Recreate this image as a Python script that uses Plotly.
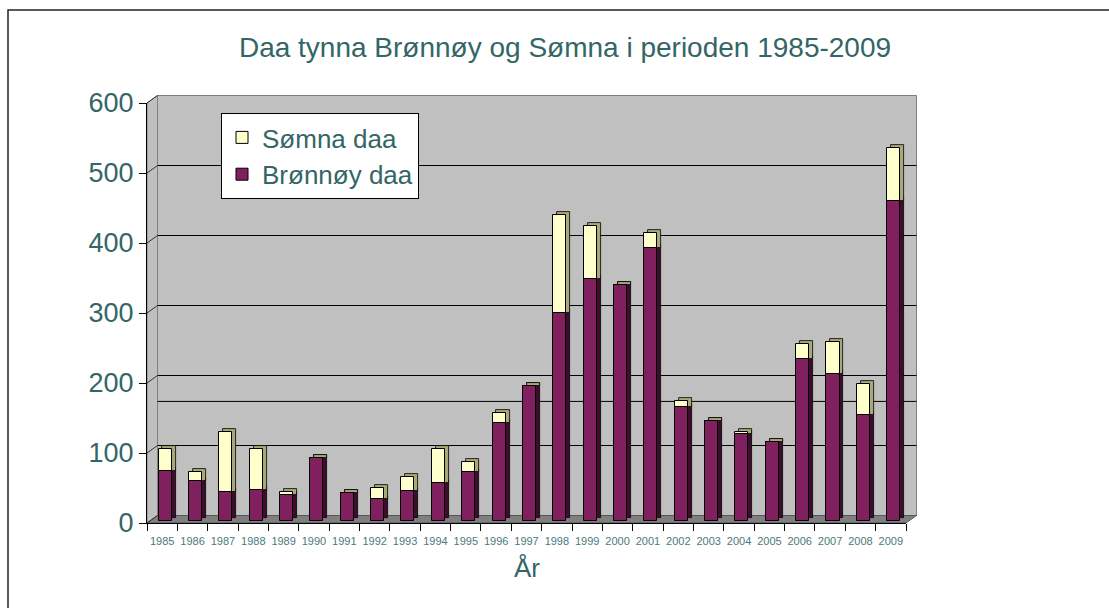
import plotly.graph_objects as go

# ---- data ----
YEARS = ["1985", "1986", "1987", "1988", "1989", "1990", "1991", "1992", "1993",
         "1994", "1995", "1996", "1997", "1998", "1999", "2000", "2001", "2002",
         "2003", "2004", "2005", "2006", "2007", "2008", "2009"]
BRONNOY = [72, 57, 42, 45, 38, 90, 40, 32, 44, 55, 71, 141, 194, 298, 346, 338,
           391, 163, 143, 125, 114, 232, 211, 152, 457]
SOMNA = [31, 14, 85, 59, 4, 0, 0, 16, 20, 49, 14, 14, 0, 139, 76, 0, 21, 9, 0,
         3, 0, 22, 45, 44, 76]
Y_TICKS = [0, 100, 200, 300, 400, 500, 600]
REF_LINE = 163  # extra horizontal line on the back wall

TITLE = "Daa tynna Brønnøy og Sømna i perioden 1985-2009"
X_TITLE = "År"
NAME_B = "Brønnøy daa"
NAME_S = "Sømna daa"

# ---- style ----
FONT = "Liberation Sans, Arial, sans-serif"
TEAL = "#336666"
C_B = "#80205F"
C_B_SIDE = "#3E0D2E"
C_S = "#FFFFCC"
C_S_SIDE = "#A8A878"
WALL = "#C0C0C0"
FLOOR = "#808080"

Y_MAX = Y_TICKS[-1]
BASE = 2.3          # bars stand slightly behind the front edge of the floor
DEPTH = 4.3         # vertical 3D depth of the bars (y units)
SIDE_DX = 0.13      # horizontal 3D depth of bars (category units)
OFF = -0.12
W = 0.43
WALL_DX = 10.5 / 759.0   # paper units
WALL_DY = 10.7           # y units

n = len(YEARS)

def yp(v):
    return v / Y_MAX

fig = go.Figure()

# 3D sides / tops (behind)
fig.add_trace(go.Bar(x=YEARS, y=BRONNOY, base=[BASE + DEPTH] * n,
                     offset=OFF + SIDE_DX, width=W, marker_color=C_B_SIDE,
                     marker_line=dict(color="black", width=0.8),
                     showlegend=False, hoverinfo="skip"))
fig.add_trace(go.Bar(x=YEARS, y=[s + DEPTH for s in SOMNA],
                     base=[BASE + b for b in BRONNOY],
                     offset=OFF + SIDE_DX, width=W, marker_color=C_S_SIDE,
                     marker_line=dict(color="black", width=0.8),
                     showlegend=False, hoverinfo="skip"))
# front faces
fig.add_trace(go.Bar(x=YEARS, y=BRONNOY, base=[BASE] * n, offset=OFF, width=W,
                     name=NAME_B, marker_color=C_B,
                     marker_line=dict(color="black", width=1)))
fig.add_trace(go.Bar(x=YEARS, y=SOMNA, base=[BASE + b for b in BRONNOY],
                     offset=OFF, width=W, name=NAME_S, marker_color=C_S,
                     marker_line=dict(color="black", width=1)))

shapes = []
# back wall
shapes.append(dict(type="rect", xref="paper", yref="paper", layer="below",
                   x0=WALL_DX, x1=1 + WALL_DX, y0=yp(WALL_DY), y1=yp(Y_MAX + WALL_DY),
                   fillcolor=WALL, line=dict(color="#808080", width=1)))
# left wall
shapes.append(dict(type="path", xref="paper", yref="paper", layer="below",
                   path=f"M 0 {yp(0)} L 0 {yp(Y_MAX)} L {WALL_DX} {yp(Y_MAX + WALL_DY)} "
                        f"L {WALL_DX} {yp(WALL_DY)} Z",
                   fillcolor=WALL, line=dict(color="#808080", width=1)))
# floor
shapes.append(dict(type="path", xref="paper", yref="paper", layer="below",
                   path=f"M 0 {yp(0)} L 1 {yp(0)} L {1 + WALL_DX} {yp(WALL_DY)} "
                        f"L {WALL_DX} {yp(WALL_DY)} Z",
                   fillcolor=FLOOR, line=dict(color="#555555", width=1)))
# gridlines on back wall + diagonals on the left wall
for v in Y_TICKS:
    if 0 < v < Y_MAX:
        shapes.append(dict(type="line", xref="paper", yref="paper", layer="below",
                           x0=WALL_DX, x1=1 + WALL_DX, y0=yp(v + WALL_DY), y1=yp(v + WALL_DY),
                           line=dict(color="black", width=1)))
    shapes.append(dict(type="line", xref="paper", yref="paper", layer="below",
                       x0=0, x1=WALL_DX, y0=yp(v), y1=yp(v + WALL_DY),
                       line=dict(color="#333333", width=1)))
shapes.append(dict(type="line", xref="paper", yref="paper", layer="below",
                   x0=WALL_DX, x1=1 + WALL_DX, y0=yp(REF_LINE + WALL_DY),
                   y1=yp(REF_LINE + WALL_DY), line=dict(color="black", width=1)))
# outer chart border
shapes.append(dict(type="rect", xref="paper", yref="paper", layer="above",
                   x0=(8 - 147) / 759.0, x1=1.4, y0=(523 - 10) / 420.0, y1=-0.4,
                   line=dict(color="#222222", width=1.5), fillcolor="rgba(0,0,0,0)"))

fig.update_layout(
    width=1109, height=608,
    margin=dict(l=147, r=203, t=103, b=85),
    paper_bgcolor="white", plot_bgcolor="rgba(0,0,0,0)",
    barmode="overlay", bargap=0,
    font=dict(family=FONT, color=TEAL),
    title=dict(text=TITLE, xref="container", yref="container",
               x=565 / 1109, y=1 - 47 / 608, xanchor="center", yanchor="middle",
               font=dict(family=FONT, size=28, color=TEAL)),
    legend=dict(x=(221 - 147) / 759.0, y=(523 - 113) / 420.0, xanchor="left",
                yanchor="top", bgcolor="white", bordercolor="black", borderwidth=1,
                traceorder="reversed", font=dict(family=FONT, size=26, color=TEAL),
                itemclick=False, tracegroupgap=0),
    shapes=shapes,
    annotations=[dict(text=X_TITLE, xref="paper", yref="paper", x=0.5,
                      y=(523 - 568) / 420.0, xanchor="center", yanchor="middle",
                      showarrow=False, font=dict(family=FONT, size=26, color=TEAL))],
    showlegend=True,
)
fig.update_xaxes(type="category", range=[-0.5, n - 0.5], showgrid=False,
                 showline=True, linecolor="black", linewidth=1,
                 ticks="outside", ticklen=7, tickcolor="black", tickson="boundaries",
                 tickangle=0, ticklabelstandoff=8,
                 tickfont=dict(family=FONT, size=11, color="#4A7A7A"), fixedrange=True)
fig.update_yaxes(range=[0, Y_MAX], tickvals=Y_TICKS, showgrid=False, zeroline=False,
                 showline=True, linecolor="black", linewidth=1,
                 ticks="outside", ticklen=7, tickcolor="black",
                 tickfont=dict(family=FONT, size=27, color=TEAL), fixedrange=True)

fig.write_html("out.html", config={"displayModeBar": False},
               post_script="document.body.style.margin='0';document.body.style.padding='0';")
